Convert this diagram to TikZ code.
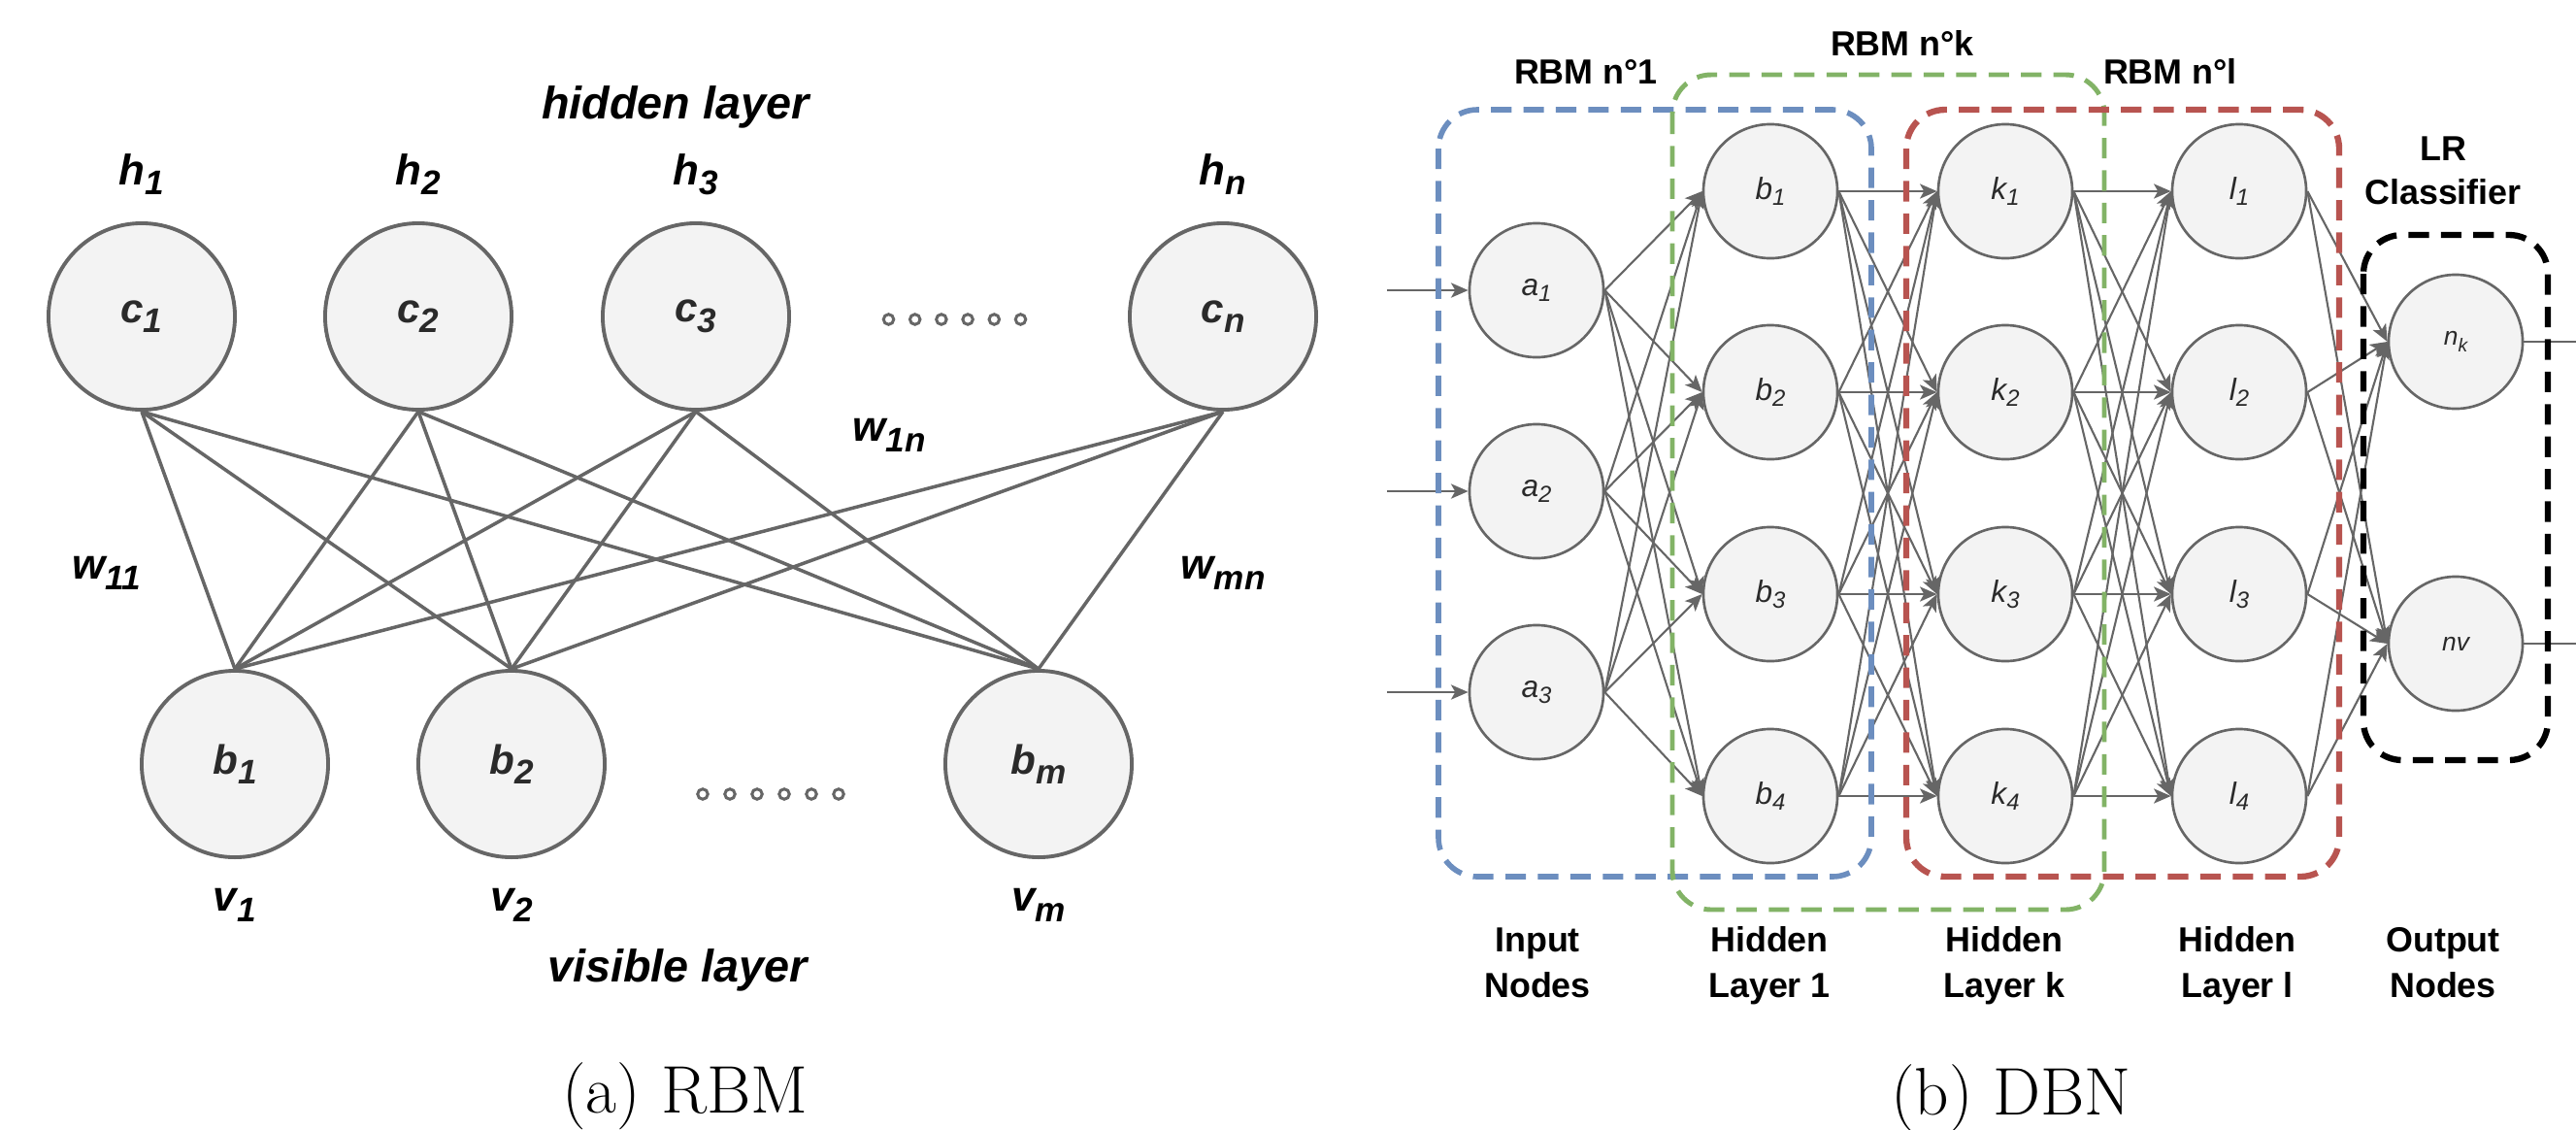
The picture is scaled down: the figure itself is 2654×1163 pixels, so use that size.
\documentclass[tikz,border=0pt]{standalone}
\usepackage{fontspec}
\newfontfamily\arial{Liberation Sans}
\usetikzlibrary{arrows.meta}
\definecolor{lg}{HTML}{666666}
\definecolor{nf}{HTML}{F3F3F3}
\definecolor{bbx}{HTML}{6C8EBF}
\definecolor{gbx}{HTML}{82B366}
\definecolor{rbx}{HTML}{B85450}
\definecolor{dtxt}{HTML}{2A2A2A}
\newcommand\rsub[1]{\raisebox{-0.25em}{\fontsize{10}{12}\selectfont #1}}
\newcommand\dsub[1]{\raisebox{-0.2em}{\fontsize{6.8}{8}\selectfont #1}}
\begin{document}
\begin{tikzpicture}[x=0.01cm,y=-0.01cm,
  rnode/.style={circle, draw=lg, line width=1.1pt, fill=nf, minimum size=1.92cm, inner sep=0pt,
    font=\arial\bfseries\itshape\fontsize{12}{14}\selectfont, text=dtxt},
  rlab/.style={anchor=base, inner sep=0pt, font=\arial\bfseries\itshape\fontsize{12.5}{15}\selectfont},
  layerlab/.style={anchor=base, inner sep=0pt, font=\arial\bfseries\itshape\fontsize{13.3}{16}\selectfont},
  rline/.style={draw=lg, line width=1pt},
  dotnode/.style={circle, draw=lg, line width=0.85pt, fill=white, minimum size=0.105cm, inner sep=0pt},
  dnode/.style={circle, draw=lg, line width=0.75pt, fill=nf, minimum size=1.38cm, inner sep=0pt,
    font=\arial\itshape\fontsize{9}{11}\selectfont, text=dtxt},
  conn/.style={draw=lg, line width=0.6pt, -{Stealth[length=5pt,width=4.3pt,inset=1.2pt]}},
  inarrow/.style={draw=lg, line width=0.8pt, -{Stealth[length=5pt,width=4.3pt,inset=1.2pt]}},
  outline/.style={draw=lg, line width=0.8pt},
  dbox/.style={rounded corners=0.4cm, line width=1.6pt, dash pattern=on 6pt off 3.5pt},
  dlab/.style={anchor=base, inner sep=0pt, font=\arial\bfseries\fontsize{10.2}{12}\selectfont},
  capt/.style={anchor=base, inner sep=0pt, font=\fontsize{19.7}{24}\selectfont}]
\useasboundingbox (0,0) rectangle (2654,1163);

% ---------------- RBM ----------------
\node[layerlab] (hid) at (696,122) {hidden layer};
\node[layerlab] (vis) at (698,1011) {visible layer};
\node[capt] (capa) at (706,1146) {(a) RBM};

\node[rnode] (rc1) at (146,326) {c\rsub{1}};
\node[rnode] (rc2) at (431,326) {c\rsub{2}};
\node[rnode] (rc3) at (717,326) {c\rsub{3}};
\node[rnode] (rcn) at (1260,326) {c\rsub{n}};
\node[rnode] (rb1) at (242,787) {b\rsub{1}};
\node[rnode] (rb2) at (527,787) {b\rsub{2}};
\node[rnode] (rbm) at (1070,787) {b\rsub{m}};

\node[rlab] (h1) at (146,190) {h\rsub{1}};
\node[rlab] (h2) at (431,190) {h\rsub{2}};
\node[rlab] (h3) at (717,190) {h\rsub{3}};
\node[rlab] (hn) at (1260,190) {h\rsub{n}};
\node[rlab] (v1) at (242,938) {v\rsub{1}};
\node[rlab] (v2) at (527,938) {v\rsub{2}};
\node[rlab] (vm) at (1070,938) {v\rsub{m}};

\node[rlab] (w11) at (110,596) {w\rsub{11}};
\node[rlab] (w1n) at (916,454) {w\rsub{1n}};
\node[rlab] (wmn) at (1260,596) {w\rsub{mn}};

\foreach \i in {0,...,5} {
  \node[dotnode] (td\i) at ({915.5+27.2*\i},329) {};
  \node[dotnode] (bd\i) at ({724+28*\i},818) {};
}

\foreach \c in {rc1,rc2,rc3,rcn}
  \foreach \b in {rb1,rb2,rbm}
    \draw[rline] (\c.south) -- (\b.north);

% ---------------- DBN ----------------
\node[dnode] (da1) at (1583,299) {a\dsub{1}};
\node[dnode] (da2) at (1583,506) {a\dsub{2}};
\node[dnode] (da3) at (1583,713) {a\dsub{3}};
\foreach \r/\y in {1/197,2/404,3/612,4/820} {
  \node[dnode] (db\r) at (1824,\y) {b\dsub{\r}};
  \node[dnode] (dk\r) at (2066,\y) {k\dsub{\r}};
  \node[dnode] (dl\r) at (2307,\y) {l\dsub{\r}};
}
\node[dnode,font=\arial\itshape\fontsize{7.5}{9}\selectfont] (dn1) at (2530,352) {n\raisebox{-0.25em}{\fontsize{5.5}{6}\selectfont k}};
\node[dnode,font=\arial\itshape\fontsize{7.5}{9}\selectfont] (dn2) at (2530,663) {nv};

\foreach \i/\y in {1/299,2/506,3/713} {
  \coordinate (ins\i) at (1429,\y);
  \draw[inarrow] (ins\i) -- (da\i.west);
}
\foreach \i/\y in {1/352,2/663} {
  \coordinate (outs\i) at (2654,\y);
  \draw[outline] (dn\i.east) -- (outs\i);
}

\foreach \i in {1,2,3}
  \foreach \j in {1,2,3,4}
    \draw[conn] (da\i.east) -- (db\j.west);
\foreach \i in {1,2,3,4}
  \foreach \j in {1,2,3,4} {
    \draw[conn] (db\i.east) -- (dk\j.west);
    \draw[conn] (dk\i.east) -- (dl\j.west);
  }
\foreach \i in {1,2,3,4}
  \foreach \j in {1,2}
    \draw[conn] (dl\i.east) -- (dn\j.west);

\draw[dbox, draw=bbx] (1482,113) rectangle (1928,903);
\draw[dbox, draw=gbx, line width=1.4pt] (1723,77) rectangle (2168,937);
\draw[dbox, draw=rbx, line width=1.8pt] (1964,113) rectangle (2410,903);
\draw[dbox, draw=black, line width=1.8pt] (2435,242) rectangle (2625,783);

\node[dlab] (r1) at (1634,86) {RBM n°1};
\node[dlab] (rk) at (1960,57) {RBM n°k};
\node[dlab] (rl) at (2236,86) {RBM n°l};
\node[dlab] (lr1) at (2517,165) {LR};
\node[dlab] (lr2) at (2517,210) {Classifier};

\node[dlab] (t1a) at (1584,980) {Input};
\node[dlab] (t1b) at (1584,1027) {Nodes};
\node[dlab] (t2a) at (1823,980) {Hidden};
\node[dlab] (t2b) at (1823,1027) {Layer 1};
\node[dlab] (t3a) at (2065,980) {Hidden};
\node[dlab] (t3b) at (2065,1027) {Layer k};
\node[dlab] (t4a) at (2305,980) {Hidden};
\node[dlab] (t4b) at (2305,1027) {Layer l};
\node[dlab] (t5a) at (2517,980) {Output};
\node[dlab] (t5b) at (2517,1027) {Nodes};

\node[capt] (capb) at (2072,1148) {(b) DBN};
\end{tikzpicture}
\end{document}
